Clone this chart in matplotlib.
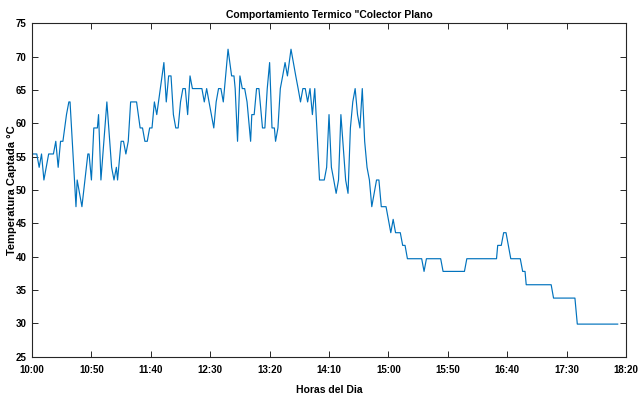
import matplotlib
matplotlib.use("Agg")
import matplotlib.pyplot as plt
from matplotlib import font_manager

# minutes after 10:00 and collector temperature (degC) at each reading
minutes = [0, 4, 6, 8, 10, 14, 18, 20, 22, 24, 26, 29, 31, 32, 37, 38, 42, 47, 48, 50,
           52, 55, 56, 58, 63, 67, 69, 71, 72, 75, 77, 79, 81, 83, 88, 91, 93, 95, 97, 99,
           101, 103, 105, 108, 111, 113, 115, 117, 119, 121, 123, 125, 127, 129, 131, 133, 135, 143, 145, 147,
           149, 153, 155, 157, 159, 161, 163, 165, 168, 170, 171, 173, 175, 177, 179, 181, 184, 185, 187, 189,
           191, 194, 196, 198, 200, 202, 204, 205, 207, 209, 211, 213, 215, 218, 220, 222, 224, 226, 228, 230,
           232, 234, 236, 238, 242, 246, 248, 250, 252, 254, 256, 258, 260, 264, 266, 268, 270, 272, 274, 276,
           278, 280, 282, 284, 286, 288, 290, 292, 294, 298, 302, 304, 306, 310, 312, 314, 316, 328, 330, 332,
           344, 346, 364, 366, 391, 392, 395, 397, 399, 403, 411, 413, 415, 416, 437, 439, 457, 459, 493]
temps = [55.4, 55.4, 53.4, 55.4, 51.5, 55.4, 55.4, 57.3, 53.4, 57.3, 57.3, 61.3, 63.2, 63.2, 47.5, 51.5, 47.5, 55.4, 55.4, 51.5,
         59.3, 59.3, 61.3, 51.5, 63.2, 53.4, 51.5, 53.4, 51.5, 57.3, 57.3, 55.4, 57.3, 63.2, 63.2, 59.3, 59.3, 57.3, 57.3, 59.3,
         59.3, 63.2, 61.3, 65.2, 69.1, 63.2, 67.1, 67.1, 61.3, 59.3, 59.3, 63.2, 65.2, 65.2, 61.3, 67.1, 65.2, 65.2, 63.2, 65.2,
         63.2, 59.3, 63.2, 65.2, 65.2, 63.2, 67.1, 71.1, 67.1, 67.1, 65.2, 57.3, 67.1, 65.2, 65.2, 63.2, 57.3, 61.3, 61.3, 65.2,
         65.2, 59.3, 59.3, 65.2, 69.1, 59.3, 59.3, 57.3, 59.3, 65.2, 67.1, 69.1, 67.1, 71.1, 69.1, 67.1, 65.2, 63.2, 65.2, 65.2,
         63.2, 65.2, 61.3, 65.2, 51.5, 51.5, 53.4, 61.3, 53.4, 51.5, 49.5, 51.5, 61.3, 51.5, 49.5, 59.3, 63.2, 65.2, 61.3, 59.3,
         65.2, 57.3, 53.4, 51.5, 47.5, 49.5, 51.5, 51.5, 47.5, 47.5, 43.6, 45.6, 43.6, 43.6, 41.7, 41.7, 39.7, 39.7, 37.8, 39.7,
         39.7, 37.8, 37.8, 39.7, 39.7, 41.7, 41.7, 43.6, 43.6, 39.7, 39.7, 37.8, 37.8, 35.8, 35.8, 33.8, 33.8, 29.9, 29.9]

tick_minutes = list(range(0, 501, 50))
tick_labels = ['10:00', '10:50', '11:40', '12:30', '13:20', '14:10', '15:00',
               '15:50', '16:40', '17:30', '18:20']
y_ticks = list(range(25, 76, 5))

installed = {f.name for f in font_manager.fontManager.ttflist}
family = 'Liberation Sans Narrow' if 'Liberation Sans Narrow' in installed else 'Liberation Sans'
plt.rcParams['font.family'] = [family, 'DejaVu Sans']
plt.rcParams['font.weight'] = 'bold'

axis_color = '#262626'

fig = plt.figure(figsize=(6.38, 4.0), dpi=100)
ax = fig.add_axes([0.0502, 0.108, 0.931, 0.834])
ax.plot(minutes, temps, color='#0072BD', linewidth=0.85)

ax.set_xlim(0, 500)
ax.set_ylim(25, 75)
ax.set_xticks(tick_minutes)
ax.set_xticklabels(tick_labels)
ax.set_yticks(y_ticks)

for side in ['left', 'right', 'top', 'bottom']:
    ax.spines[side].set_color(axis_color)
    ax.spines[side].set_linewidth(0.8)
ax.tick_params(direction='in', length=4, width=0.7, colors=axis_color,
               labelsize=7, top=True, right=True)
ax.tick_params(axis='x', pad=6)
ax.tick_params(axis='y', pad=4)
for lab in ax.get_xticklabels() + ax.get_yticklabels():
    lab.set_color('black')

ax.set_title('Comportamiento Termico "Colector Plano', fontsize=7.5, fontweight='bold', pad=4)
ax.set_xlabel('Horas del Dia', fontsize=7.5, fontweight='bold')
ax.set_ylabel('Temperatura Captada \u00b0C', fontsize=8, fontweight='bold')
ax.xaxis.set_label_coords(0.5, -0.085)
ax.yaxis.set_label_coords(-0.026, 0.5)

fig.savefig('out.png', dpi=100)
